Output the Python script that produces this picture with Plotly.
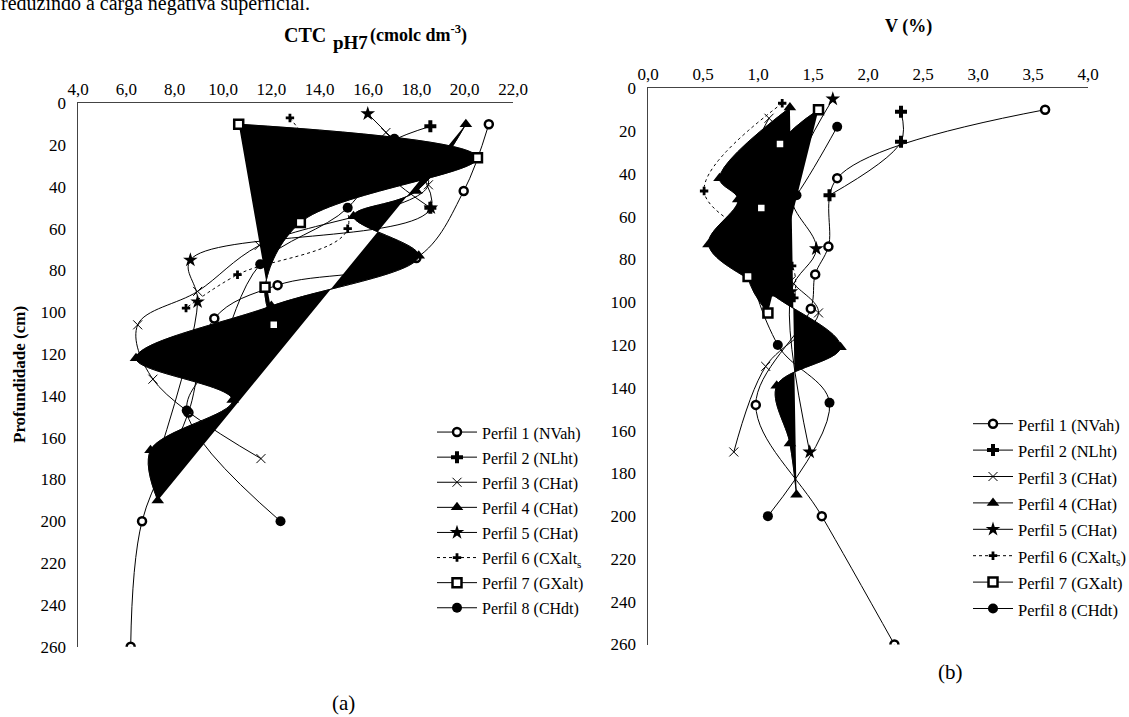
import plotly.graph_objects as go

# ---------------- data: CTC pH7 (left panel) ----------------
p1_ctc = [21.0, 19.96, 18.0, 12.26, 9.64, 8.57, 6.65, 6.18]
p1_ctc_d = [10, 42, 74, 87, 103, 148, 200, 260]
p2_ctc = [18.58, 16.3, 18.58]
p2_ctc_d = [11, 25, 50]
p3_ctc = [16.74, 18.5, 11.5, 8.95, 6.47, 7.1, 11.57]
p3_ctc_d = [14, 39, 68, 90, 106, 132, 170]
p4_ctc = [20.05, 18.0, 15.4, 18.1, 12.0, 6.4, 10.4, 7.0, 7.3]
p4_ctc_d = [10, 42, 54, 73, 97, 122, 142, 166, 190]
p5_ctc = [15.99, 18.6, 8.65, 8.95, 7.3]
p5_ctc_d = [5, 50, 75, 95, 170]
p6_ctc = [12.77, 15.16, 10.6, 8.47]
p6_ctc_d = [7, 60, 82, 98]
p7_ctc = [10.65, 20.53, 13.2, 11.74, 12.1]
p7_ctc_d = [10, 26, 57, 88, 106]
p8_ctc = [17.09, 15.16, 11.54, 9.8, 8.5, 12.38]
p8_ctc_d = [17, 50, 77, 120, 147, 200]

# ---------------- data: V % (right panel) ----------------
p1_v = [3.61, 1.72, 1.64, 1.52, 1.48, 0.98, 1.58, 2.24]
p1_v_d = [10, 42, 74, 87, 103, 148, 200, 260]
p2_v = [2.30, 2.30, 1.65]
p2_v_d = [11, 25, 50]
p3_v = [1.1, 0.9, 1.0, 1.3, 1.55, 1.07, 0.78]
p3_v_d = [14, 39, 68, 90, 105, 130, 170]
p4_v = [1.29, 0.65, 0.82, 0.55, 1.12, 1.75, 1.17, 1.29, 1.35]
p4_v_d = [9, 42, 52, 73, 96, 121, 139, 166, 190]
p5_v = [1.68, 1.3, 1.53, 1.3, 1.47]
p5_v_d = [5, 50, 75, 95, 170]
p6_v = [1.22, 0.51, 1.31, 1.33]
p6_v_d = [7, 48, 83, 98]
p7_v = [1.55, 1.20, 1.03, 0.91, 1.09]
p7_v_d = [10, 26, 56, 88, 105]
p8_v = [1.72, 1.35, 0.95, 1.18, 1.65, 1.09]
p8_v_d = [18, 50, 76, 120, 147, 200]

names_left = ["Perfil 1 (NVah)", "Perfil 2 (NLht)", "Perfil 3 (CHat)", "Perfil 4 (CHat)",
              "Perfil 5 (CHat)", "Perfil 6 (CXalt<sub>s</sub>", "Perfil 7 (GXalt)", "Perfil 8 (CHdt)"]
names_right = ["Perfil 1 (NVah)", "Perfil 2 (NLht)", "Perfil 3 (CHat)", "Perfil 4 (CHat)",
               "Perfil 5 (CHat)", "Perfil 6 (CXalt<sub>s</sub>)", "Perfil 7 (GXalt)", "Perfil 8 (CHdt)"]

ctc_tick_vals = [4, 6, 8, 10, 12, 14, 16, 18, 20, 22]
ctc_tick_text = ["4,0", "6,0", "8,0", "10,0", "12,0", "14,0", "16,0", "18,0", "20,0", "22,0"]
v_tick_vals = [0, 0.5, 1, 1.5, 2, 2.5, 3, 3.5, 4]
v_tick_text = ["0,0", "0,5", "1,0", "1,5", "2,0", "2,5", "3,0", "3,5", "4,0"]
depth_ticks = list(range(0, 261, 20))

SERIF = "Liberation Serif"
W, H = 1129, 717

markers = [
    dict(symbol="circle", size=8, color="white", line=dict(color="black", width=2.5)),
    dict(symbol="cross", size=10, color="black", line=dict(color="black", width=0)),
    dict(symbol="x-thin", size=9, color="black", line=dict(color="black", width=1)),
    dict(symbol="triangle-up", size=11, color="black", line=dict(color="black", width=0)),
    dict(symbol="star", size=11, color="black", line=dict(color="black", width=0)),
    dict(symbol="cross", size=7, color="black", line=dict(color="black", width=0)),
    dict(symbol="square", size=9, color="white", line=dict(color="black", width=2.5)),
    dict(symbol="circle", size=10, color="black", line=dict(color="black", width=0)),
]

fig = go.Figure()


def add_panel(series, names, xa, ya, legend, txt_size):
    for i, (xv, dv) in enumerate(series):
        if i in (3, 6):
            fig.add_trace(go.Scatter(
                x=xv, y=dv, xaxis=xa, yaxis=ya, mode="lines", fill="toself",
                fillcolor="black", line=dict(color="black", width=0.5, shape="spline", smoothing=1),
                showlegend=False, hoverinfo="skip"))
        fig.add_trace(go.Scatter(
            x=xv, y=dv, xaxis=xa, yaxis=ya, mode="lines+markers",
            name="<span style='font-size:%spx'>%s</span>" % (txt_size, names[i]),
            line=dict(color="black", width=1, shape="spline", smoothing=1,
                      dash="dot" if i == 5 else "solid"),
            marker=markers[i], legend=legend))


left_series = [(p1_ctc, p1_ctc_d), (p2_ctc, p2_ctc_d), (p3_ctc, p3_ctc_d), (p4_ctc, p4_ctc_d),
               (p5_ctc, p5_ctc_d), (p6_ctc, p6_ctc_d), (p7_ctc, p7_ctc_d), (p8_ctc, p8_ctc_d)]
right_series = [(p1_v, p1_v_d), (p2_v, p2_v_d), (p3_v, p3_v_d), (p4_v, p4_v_d),
                (p5_v, p5_v_d), (p6_v, p6_v_d), (p7_v, p7_v_d), (p8_v, p8_v_d)]

add_panel(left_series, names_left, "x", "y", "legend", 16)
add_panel(right_series, names_right, "x2", "y2", "legend2", 16.5)

tickfont = dict(family=SERIF, size=17, color="black")
axline = dict(showline=True, linecolor="#444", linewidth=1.5, showgrid=False, zeroline=False,
              ticks="", tickfont=tickfont, automargin=False)

fig.update_layout(
    width=W, height=H, paper_bgcolor="white", plot_bgcolor="white",
    margin=dict(l=0, r=0, t=0, b=0, autoexpand=False),
    xaxis=dict(domain=[78 / W, 513 / W], range=[4, 22], side="top", anchor="y",
               tickvals=ctc_tick_vals, ticktext=ctc_tick_text, ticklabelstandoff=0, **axline),
    yaxis=dict(domain=[1 - 646.7 / H, 1 - 103.3 / H], range=[260, 0], anchor="x",
               tickvals=depth_ticks, ticklabelstandoff=7, **axline),
    xaxis2=dict(domain=[648 / W, 1088 / W], range=[0, 4], side="top", anchor="y2",
                tickvals=v_tick_vals, ticktext=v_tick_text, ticklabelstandoff=0, **axline),
    yaxis2=dict(domain=[1 - 644.5 / H, 1 - 88.3 / H], range=[260, 0], anchor="x2",
                tickvals=depth_ticks, ticklabelstandoff=7, **axline),
    legend=dict(x=432 / W, y=1 - 414.5 / H, xanchor="left", yanchor="top",
                font=dict(family=SERIF, size=17, color="black"), bgcolor="rgba(0,0,0,0)",
                itemwidth=40, tracegroupgap=0),
    legend2=dict(x=968 / W, y=1 - 405.5 / H, xanchor="left", yanchor="top",
                 font=dict(family=SERIF, size=18, color="black"), bgcolor="rgba(0,0,0,0)",
                 itemwidth=40, tracegroupgap=0),
    showlegend=True,
)


def A(text, x, y, size, xanchor="center", yanchor="middle", **kw):
    return dict(text=text, x=x / W, y=1 - y / H, xref="paper", yref="paper",
                xanchor=xanchor, yanchor=yanchor, showarrow=False,
                font=dict(family=SERIF, size=size, color="black"), **kw)


annos = [
    dict(text="reduzindo a carga negativa superficial.", x=0, y=1, xref="paper", yref="paper",
         xanchor="left", yanchor="bottom", yshift=-17, xshift=-1, showarrow=False,
         font=dict(family=SERIF, size=20, color="black")),
    A("<b>CTC</b>", 282, 35, 20, xanchor="left"),
    A("<b>pH7</b>", 331, 42.5, 19, xanchor="left"),
    A("<b>(cmolc dm<sup>-3</sup>)</b>", 368, 34, 18, xanchor="left"),
    A("<b>V (%)</b>", 908, 26.5, 18),
    A("<b>Profundidade (cm)</b>", 19, 375, 17, textangle=-90),
    A("(a)", 343, 703, 21),
    A("(b)", 950, 672, 21),
]
fig.update_layout(annotations=annos)

fig.write_html("out.html", config={"displayModeBar": False, "staticPlot": True},
               post_script="document.body.style.margin='0';document.body.style.overflow='hidden';")
